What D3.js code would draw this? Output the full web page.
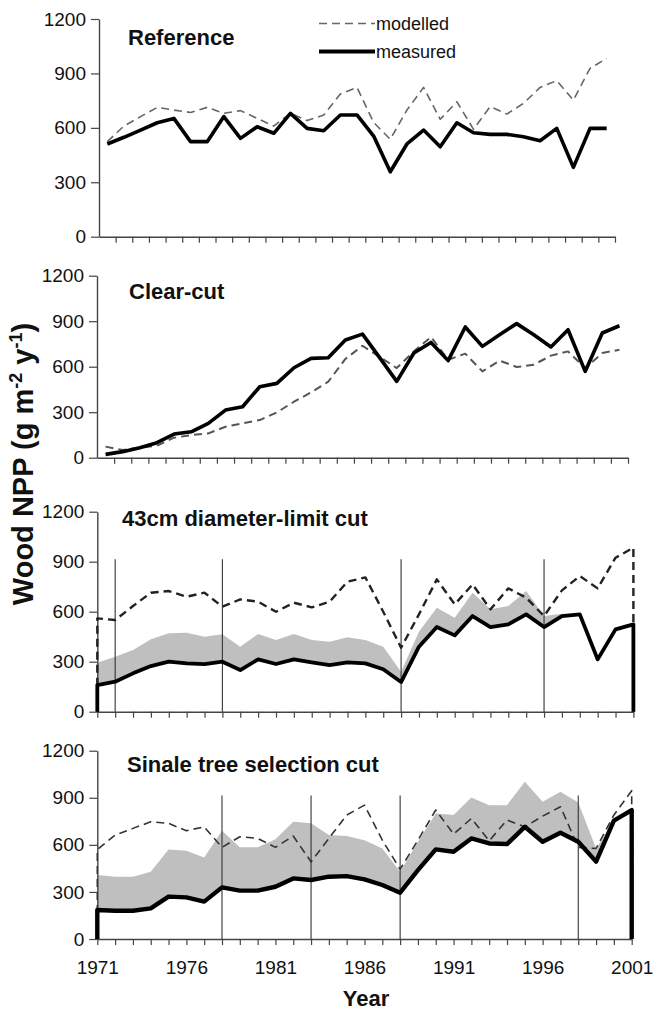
<!DOCTYPE html>
<html>
<head>
<meta charset="utf-8">
<script src="https://cdn.jsdelivr.net/npm/d3@7"></script>
<style>
  html, body { margin: 0; padding: 0; background: #fff; }
  svg { display: block; }
  text { font-family: "Liberation Sans", Arial, sans-serif; }
</style>
</head>
<body>
<svg id="chart" width="656" height="1011"></svg>
<script>
// ---------------- data ----------------
const years = d3.range(1971, 2002);               // 1971 ... 2001
const yTicks = [0, 300, 600, 900, 1200];
const xTickLabels = [1971, 1976, 1981, 1986, 1991, 1996, 2001];

const panelTitles = ["Reference", "Clear-cut", "43cm diameter-limit cut", "Sinale tree selection cut"];
const legendLabels = ["modelled", "measured"];

// Reference
const refMeasured = [511, 548, 588, 628, 652, 524, 524, 662, 542, 606, 570, 680, 597, 584, 671, 671,
                     555, 358, 511, 588, 496, 628, 573, 564, 564, 551, 529, 597, 382, 597, 597];
const refModelled = [524, 610, 662, 713, 698, 685, 713, 680, 695, 652, 610, 680, 640, 671, 787, 823,
                     630, 537, 698, 823, 647, 744, 592, 717, 676, 735, 823, 860, 753, 928, 983];

// Clear-cut
const ccMeasured = [22, 40, 66, 99, 156, 171, 226, 314, 336, 468, 490, 593, 655, 659, 776, 815,
                    660, 503, 690, 760, 640, 862, 734, 811, 884, 811, 730, 844, 569, 822, 870];
const ccModelled = [73, 51, 66, 79, 132, 149, 160, 204, 226, 248, 299, 369, 431, 501, 651, 738,
                    665, 591, 701, 796, 646, 686, 569, 640, 598, 613, 673, 701, 591, 690, 712];

// 43cm diameter-limit cut
const dlMeasured = [160, 180, 230, 274, 300, 290, 286, 300, 250, 314, 286, 314, 296, 280, 296, 290,
                    255, 178, 390, 508, 458, 574, 508, 524, 584, 508, 574, 584, 314, 494, 524];
const dlModelled = [560, 550, 634, 714, 724, 690, 714, 630, 674, 660, 600, 654, 626, 660, 780, 806,
                    600, 384, 584, 794, 644, 764, 614, 740, 684, 574, 728, 814, 740, 924, 984];
const dlUpper    = [294, 330, 370, 434, 470, 474, 450, 464, 390, 466, 430, 466, 430, 420, 446, 430,
                    390, 240, 480, 624, 564, 714, 614, 634, 724, 574, 588, 584, 314, 494, 524];
const dlCuts = [1972, 1978, 1988, 1996];

// Single tree selection cut
const stMeasured = [185, 180, 180, 195, 270, 265, 238, 329, 308, 308, 333, 386, 376, 397, 401, 380,
                    344, 295, 439, 571, 556, 641, 609, 605, 715, 620, 677, 620, 493, 754, 822];
const stModelled = [571, 662, 705, 747, 737, 690, 715, 584, 652, 641, 584, 656, 492, 641, 790, 853,
                    630, 444, 630, 822, 669, 768, 626, 758, 715, 783, 843, 584, 577, 790, 945];
const stUpper    = [408, 397, 397, 429, 571, 563, 520, 690, 584, 584, 635, 747, 737, 662, 656, 630,
                    577, 429, 620, 800, 790, 902, 853, 853, 1002, 875, 938, 870, 577, 754, 822];
const stCuts = [1978, 1983, 1988, 1998];
const cutTop = 915;

// ---------------- layout ----------------
const svg = d3.select("#chart");
svg.append("rect").attr("width", 656).attr("height", 1011).attr("fill", "#fff");

const panels = [
  { title: panelTitles[0], kind: "band", x0: 99,   x1: 615,   yBottom: 236.7, yTop: 19,
    measured: refMeasured, modelled: refModelled, titleX: 128, titleY: 45,
    dashW: 1.6, dashCol: "#666", solidW: 3.6, legend: true },
  { title: panelTitles[1], kind: "band", x0: 97,   x1: 628,   yBottom: 457.7, yTop: 275.7,
    measured: ccMeasured, modelled: ccModelled, titleX: 129, titleY: 299,
    dashW: 2, dashCol: "#555", solidW: 3.6 },
  { title: panelTitles[2], kind: "year", x0: 97.3, x1: 633.4, yBottom: 711.7, yTop: 511.7,
    measured: dlMeasured, modelled: dlModelled, upper: dlUpper, cuts: dlCuts, titleX: 122, titleY: 526,
    dashW: 2.4, dashCol: "#222", solidW: 3.8 },
  { title: panelTitles[3], kind: "year", x0: 97.3, x1: 631.7, yBottom: 939, yTop: 750.7,
    measured: stMeasured, modelled: stModelled, upper: stUpper, cuts: stCuts, titleX: 127, titleY: 772,
    dashW: 1.6, dashCol: "#333", solidW: 4.4, xLabels: true }
];

panels.forEach(p => {
  const g = svg.append("g");
  const y = d3.scaleLinear().domain([0, 1200]).range([p.yBottom, p.yTop]);
  let x, pts;
  if (p.kind === "band") {
    x = d3.scalePoint().domain(years).range([p.x0, p.x1]).padding(0.5);
    pts = arr => years.map((yr, i) => [x(yr), y(arr[i])]);
  } else {
    x = d3.scaleLinear().domain([1971, 2001]).range([p.x0, p.x1]);
    pts = arr => [[x(1971), y(0)]].concat(years.map((yr, i) => [x(yr), y(arr[i])])).concat([[x(2001), y(0)]]);
  }

  // grey uncertainty band
  if (p.upper) {
    const area = d3.area()
      .x((d, i) => x(years[i]))
      .y0((d, i) => y(p.measured[i]))
      .y1((d, i) => y(p.upper[i]));
    g.append("path").attr("d", area(years)).attr("fill", "#bfbfbf").attr("stroke", "none");
  }

  // axes
  const yAxis = d3.axisLeft(y).tickValues(yTicks).tickSize(8).tickSizeOuter(0).tickPadding(5)
    .tickFormat(d3.format("d"));
  const ya = g.append("g").attr("transform", `translate(${p.x0},0)`).call(yAxis);
  ya.select(".domain").attr("stroke", "#444").attr("stroke-width", 1.4);
  ya.selectAll(".tick line").attr("stroke", "#444").attr("stroke-width", 1.2);
  ya.selectAll(".tick text").attr("font-size", 19).attr("fill", "#111")
    .attr("font-family", "'Liberation Sans', Arial, sans-serif");

  let xa;
  if (p.kind === "band") {
    const xb = d3.scaleLinear().domain([0, years.length]).range([p.x0, p.x1]);
    xa = g.append("g").attr("transform", `translate(0,${p.yBottom})`)
      .call(d3.axisBottom(xb).tickValues(d3.range(1, years.length + 1)).tickSize(6).tickSizeOuter(0).tickFormat(""));
  } else {
    xa = g.append("g").attr("transform", `translate(0,${p.yBottom})`)
      .call(d3.axisBottom(x).tickValues(years).tickSize(6).tickSizeOuter(0).tickPadding(16)
        .tickFormat(d => (p.xLabels && xTickLabels.includes(d)) ? String(d) : ""));
  }
  xa.select(".domain").attr("stroke", "#444").attr("stroke-width", 1.4);
  xa.selectAll(".tick line").attr("stroke", "#444").attr("stroke-width", 1.2);
  xa.selectAll(".tick text").attr("font-size", 19).attr("fill", "#111")
    .attr("font-family", "'Liberation Sans', Arial, sans-serif");

  // harvest event lines
  if (p.cuts) {
    g.selectAll(".cut").data(p.cuts).enter().append("line")
      .attr("x1", d => x(d)).attr("x2", d => x(d))
      .attr("y1", y(0)).attr("y2", y(cutTop))
      .attr("stroke", "#333").attr("stroke-width", 1.1);
  }

  const line = d3.line();
  // modelled (dashed)
  g.append("path").attr("d", line(pts(p.modelled)))
    .attr("fill", "none").attr("stroke", p.dashCol).attr("stroke-width", p.dashW)
    .attr("stroke-dasharray", "8,5").attr("stroke-linejoin", "round");
  // measured (solid)
  g.append("path").attr("d", line(pts(p.measured)))
    .attr("fill", "none").attr("stroke", "#000").attr("stroke-width", p.solidW)
    .attr("stroke-linejoin", "round");

  // title
  g.append("text").attr("x", p.titleX).attr("y", p.titleY)
    .attr("font-size", 22).attr("font-weight", "bold").attr("fill", "#111")
    .text(p.title);

  if (p.legend) {
    const lg = g.append("g");
    lg.append("line").attr("x1", 319).attr("x2", 375).attr("y1", 23.5).attr("y2", 23.5)
      .attr("stroke", "#666").attr("stroke-width", 1.6).attr("stroke-dasharray", "8,5");
    lg.append("text").attr("x", 376).attr("y", 29.5).attr("font-size", 18).attr("fill", "#111").text(legendLabels[0]);
    lg.append("line").attr("x1", 319).attr("x2", 375).attr("y1", 51.5).attr("y2", 51.5)
      .attr("stroke", "#000").attr("stroke-width", 4.2);
    lg.append("text").attr("x", 376).attr("y", 57.5).attr("font-size", 18).attr("fill", "#111").text(legendLabels[1]);
  }
});

// axis titles
svg.append("text").attr("x", 366).attr("y", 1006).attr("text-anchor", "middle")
  .attr("font-size", 22).attr("font-weight", "bold").attr("fill", "#111").text("Year");

const yl = svg.append("text")
  .attr("transform", "translate(33,464) rotate(-90)")
  .attr("text-anchor", "middle").attr("font-size", 29).attr("font-weight", "bold").attr("fill", "#111");
yl.append("tspan").text("Wood NPP (g m");
yl.append("tspan").attr("font-size", 18).attr("dy", -11).text("-2");
yl.append("tspan").attr("dy", 11).text(" y");
yl.append("tspan").attr("font-size", 18).attr("dy", -11).text("-1");
yl.append("tspan").attr("dy", 11).text(")");
</script>
</body>
</html>
